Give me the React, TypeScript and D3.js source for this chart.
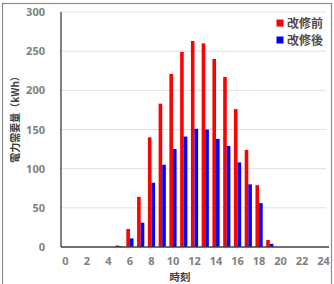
import React from "react";
import * as d3 from "d3";

const hours = d3.range(0, 25);
const before = [0, 0, 0, 0, 0, 2, 23, 64, 140, 183, 221, 249, 263, 260, 240, 217, 176, 124, 79, 9, 0, 0, 0, 0, 0];
const after = [0, 0, 0, 0, 0, 1, 11, 31, 82, 105, 125, 141, 151, 150, 138, 129, 108, 80, 56, 4, 0, 0, 0, 0, 0];
const yTicks = [0, 50, 100, 150, 200, 250, 300];
const xTickLabels = [0, 2, 4, 6, 8, 10, 12, 14, 16, 18, 20, 22, 24];
const seriesNames = ["改修前", "改修後"];
const seriesColors = ["#ff0000", "#0000ff"];

const W = 334;
const H = 284;
const left = 60;
const right = 329;
const top = 12;
const bottom = 247;

const App = () => {
  const x = d3.scaleBand<number>().domain(hours).range([left, right]);
  const y = d3.scaleLinear().domain([0, 300]).range([bottom, top]);
  const inner = d3.scaleBand<number>().domain([0, 1]).range([-3.6, 3.6]);
  const series = [before, after];
  const numFont = "'Noto Sans', 'DejaVu Sans', sans-serif";
  const jpFont = "'Noto Sans CJK JP', sans-serif";

  return (
    <svg width={W} height={H} style={{ position: "absolute", left: 0, top: 0, background: "#fff" }}>
      {/* outer frame */}
      <rect x={2.5} y={3.5} width={329} height={290} fill="none" stroke="#8c8c8c" strokeWidth={1.2} />

      {/* gridlines */}
      {yTicks.filter((t) => t > 0).map((t) => (
        <line key={t} x1={left} x2={right - 3} y1={y(t)} y2={y(t)} stroke="#e0e0e0" strokeWidth={1} />
      ))}

      {/* bars */}
      {series.map((vals, si) =>
        vals.map((v, i) => (
          <rect
            key={`${si}-${i}`}
            x={(x(hours[i]) as number) + x.bandwidth() / 2 + (inner(si) as number)}
            y={y(v)}
            width={inner.bandwidth()}
            height={bottom - y(v)}
            fill={seriesColors[si]}
          />
        ))
      )}

      {/* axes */}
      <line x1={left + 1} x2={left + 1} y1={top} y2={bottom} stroke="#404040" strokeWidth={1.3} />
      <line x1={left + 1} x2={right} y1={bottom} y2={bottom} stroke="#404040" strokeWidth={1.3} />

      {/* y tick labels */}
      {yTicks.map((t) => (
        <text key={t} x={45} y={y(t) + 4} textAnchor="end" fontFamily={numFont} fontWeight="bold" fontSize={11} fill="#7f7f7f">
          {t}
        </text>
      ))}

      {/* x tick labels */}
      {xTickLabels.map((t) => (
        <text key={t} x={(x(t) as number) + x.bandwidth() / 2} y={265} textAnchor="middle" fontFamily={numFont} fontWeight="bold" fontSize={11} fill="#7f7f7f">
          {t}
        </text>
      ))}

      {/* axis titles */}
      <text x={180} y={281} textAnchor="middle" fontFamily={jpFont} fontWeight="bold" fontSize={10.5} fill="#404040">
        時刻
      </text>
      <text
        transform={`translate(19, 117) rotate(-90)`}
        textAnchor="middle"
        fontFamily={jpFont}
        fontWeight="bold"
        fontSize={10}
        fill="#404040"
      >
        電力需要量（kWh）
      </text>

      {/* legend */}
      {seriesNames.map((name, i) => (
        <g key={name} transform={`translate(280, ${23 + i * 17})`}>
          <rect x={-3.5} y={-3.5} width={7} height={7} fill={seriesColors[i]} />
          <text x={7} y={4.5} fontFamily={jpFont} fontWeight="bold" fontSize={12} fill="#4d4d4d">
            {name}
          </text>
        </g>
      ))}
    </svg>
  );
};

export default App;
